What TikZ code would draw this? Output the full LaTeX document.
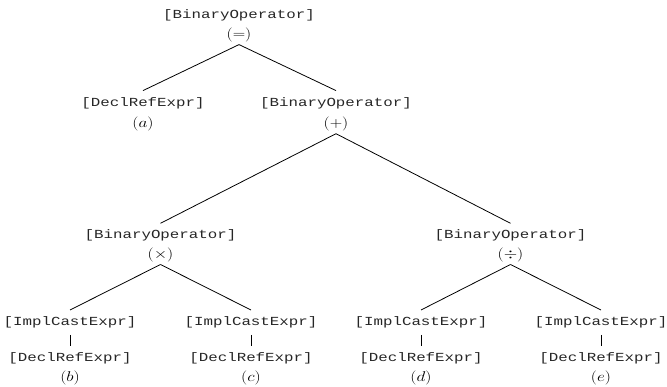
\documentclass[tikz,border=0pt]{standalone}
\usepackage{fontspec}
\setmonofont{Liberation Mono}
\usepackage{graphicx}

% Class names in a typewriter face, operators and labels in math
\newcommand\cname[1]{\scalebox{1}[0.78]{#1}}
\newcommand\oplabel[1]{\scalebox{1}[0.82]{\fontsize{17.28}{20}\selectfont$#1$}}

\tikzset{
  cls/.style={anchor=base, inner sep=0pt, text height=15.5pt, text depth=9pt,
              font=\fontsize{15.8}{18}\ttfamily, text=black!85},
  opr/.style={anchor=base, inner sep=0pt, text height=12pt, text depth=6pt},
  edge/.style={line width=0.8pt, black},
}

\begin{document}
\begin{tikzpicture}[x=1pt, y=1pt]
\useasboundingbox (0,0) rectangle (667,-387);

% root: assignment
\node[cls] (root)  at (239,-18.3) {\cname{[BinaryOperator]}};
\node[opr] (rootop) at (239,-38.4) {\oplabel{(=)}};

% first level
\node[cls] (a)   at (143,-106.3) {\cname{[DeclRefExpr]}};
\node[opr] (alab) at (143,-127.5) {\oplabel{(a)}};
\node[cls] (add)   at (336,-106.3) {\cname{[BinaryOperator]}};
\node[opr] (addop) at (336,-127.5) {\oplabel{(+)}};

% second level
\node[cls] (mul)   at (160.5,-239) {\cname{[BinaryOperator]}};
\node[opr] (mulop) at (160.5,-258.3) {\oplabel{(\times)}};
\node[cls] (dvd)   at (510.5,-239) {\cname{[BinaryOperator]}};
\node[opr] (dvdop) at (510.5,-258.3) {\oplabel{(\div)}};

% leaves: implicit cast over a reference
\foreach \n/\x/\l in {b/70/b, c/251/c, d/421/d, e/601/e}{
  \node[cls] (cast\n) at (\x,-325.7) {\cname{[ImplCastExpr]}};
  \node[cls] (ref\n)  at (\x,-361.3) {\cname{[DeclRefExpr]}};
  \node[opr] (lab\n)  at (\x,-381.7) {\oplabel{(\l)}};
  \draw[edge] (cast\n.south) -- (ref\n.north);
}

% tree edges
\draw[edge] (rootop.south) -- (a.north);
\draw[edge] (rootop.south) -- (add.north);
\draw[edge] (addop.south) -- (mul.north);
\draw[edge] (addop.south) -- (dvd.north);
\draw[edge] (mulop.south) -- (castb.north);
\draw[edge] (mulop.south) -- (castc.north);
\draw[edge] (dvdop.south) -- (castd.north);
\draw[edge] (dvdop.south) -- (caste.north);
\end{tikzpicture}
\end{document}
